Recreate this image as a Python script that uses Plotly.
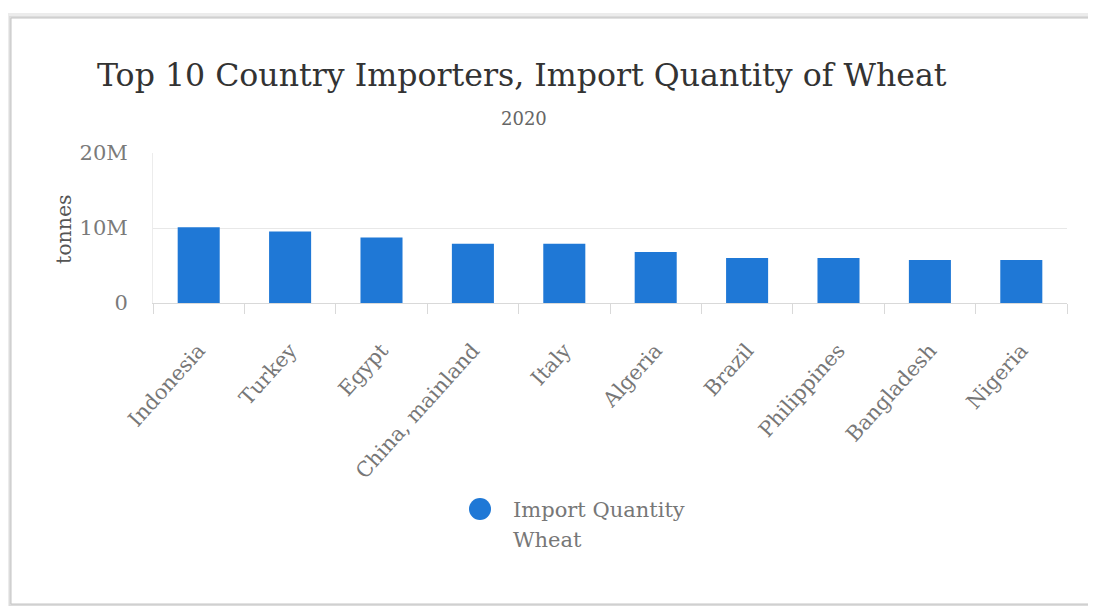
import plotly.graph_objects as go

countries = ["Indonesia", "Turkey", "Egypt", "China, mainland", "Italy",
             "Algeria", "Brazil", "Philippines", "Bangladesh", "Nigeria"]
import_qty = [10.1e6, 9.55e6, 8.75e6, 7.9e6, 7.9e6, 6.8e6, 6.0e6, 6.0e6, 5.72e6, 5.72e6]
y_ticks = [0, 10e6, 20e6]
y_tick_labels = ["0", "10M", "20M"]

OFF = 8  # default page body margin
W, H = 1096 - OFF, 606 - OFF
# target plot area in screen pixels
L, R, T, B = 153, 1067, 153, 303
FONT = "DejaVu Serif"
BLUE = "#1f78d6"

def px(x):
    return (x - L) / (R - L)

def py(y):
    return (B - y) / (B - T)

fig = go.Figure()
fig.add_trace(go.Bar(x=countries, y=import_qty, marker_color=BLUE,
                     marker_line_width=0, showlegend=False,
                     name="Import Quantity Wheat"))

shapes = []
# card shadow / border
for off, col, w in [(3, "#ececec", 4), (1, "#dcdcdc", 2), (0, "#c4c4c4", 1)]:
    shapes.append(dict(type="rect", xref="paper", yref="paper",
                       x0=px(11 - off), x1=px(1110), y0=py(18 - off), y1=py(604 + off),
                       line=dict(color=col, width=w), fillcolor="rgba(0,0,0,0)",
                       layer="below"))
# legend circle
shapes.append(dict(type="circle", xref="paper", yref="paper",
                   x0=px(469), x1=px(491), y0=py(498), y1=py(520),
                   fillcolor=BLUE, line=dict(width=0)))

annotations = [
    dict(text="Top 10 Country Importers, Import Quantity of Wheat", x=px(522), y=py(75),
         xref="paper", yref="paper", showarrow=False, xanchor="center", yanchor="middle",
         font=dict(family=FONT, size=31.6, color="#333333")),
    dict(text="2020", x=px(524), y=py(118), xref="paper", yref="paper", showarrow=False,
         xanchor="center", yanchor="middle", font=dict(family=FONT, size=18, color="#666666")),
    dict(text="tonnes", x=px(64), y=py(229), xref="paper", yref="paper", showarrow=False,
         xanchor="center", yanchor="middle", textangle=-90,
         font=dict(family=FONT, size=20.5, color="#555555")),
    dict(text="Import Quantity", x=px(511), y=py(510), xref="paper", yref="paper",
         showarrow=False, xanchor="left", yanchor="middle",
         font=dict(family=FONT, size=21, color="#777777")),
    dict(text="Wheat", x=px(511), y=py(540), xref="paper", yref="paper",
         showarrow=False, xanchor="left", yanchor="middle",
         font=dict(family=FONT, size=21, color="#777777")),
]

fig.update_layout(
    width=W, height=H,
    margin=dict(l=L - OFF, r=W - (R - OFF), t=T - OFF, b=H - (B - OFF), pad=0),
    paper_bgcolor="white", plot_bgcolor="white",
    bargap=0.54,
    font=dict(family=FONT, color="#666666"),
    shapes=shapes, annotations=annotations,
    xaxis=dict(tickangle=-48, tickfont=dict(family=FONT, size=20.8, color="#777777"),
               showgrid=False, showline=True, linecolor="#d9d9d9", linewidth=1,
               ticks="outside", tickson="boundaries", ticklen=10, tickcolor="#d9d9d9",
               ticklabelstandoff=26, fixedrange=True),
    yaxis=dict(range=[0, 20e6], tickvals=y_ticks, ticktext=y_tick_labels,
               tickfont=dict(family=FONT, size=21, color="#7a7a7a"),
               gridcolor="#e8e8e8", showline=True, linecolor="#ececec", zeroline=False,
               ticks="", ticklabelstandoff=20, fixedrange=True),
)

fig.write_html("out.html", config={"displayModeBar": False})
